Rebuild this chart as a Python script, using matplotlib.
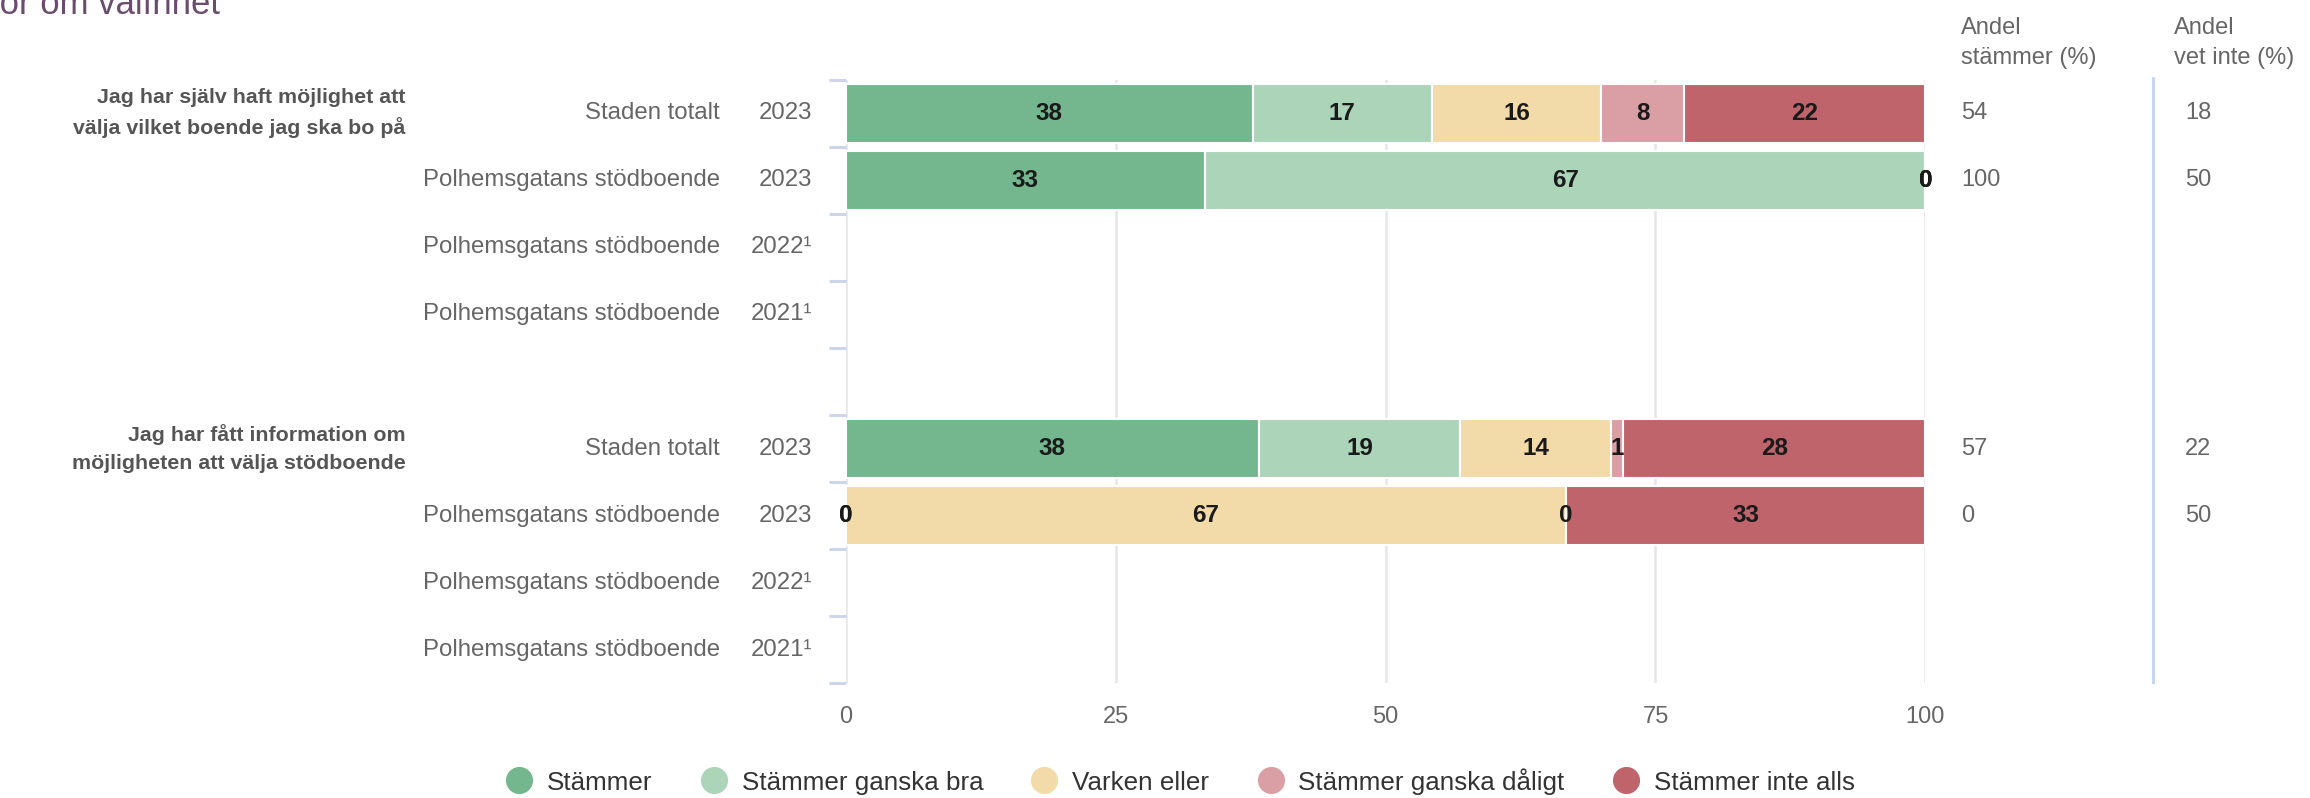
import numpy as np
import matplotlib.pyplot as plt
from matplotlib.lines import Line2D

plt.rcParams['font.family'] = ['Liberation Sans', 'DejaVu Sans']

# Data
series = ['Stämmer', 'Stämmer ganska bra', 'Varken eller', 'Stämmer ganska dåligt', 'Stämmer inte alls']
colors = ['#74b78e', '#acd4b9', '#f2dba9', '#d99fa5', '#c0646c']
questions = ['Jag har själv haft möjlighet att\nvälja vilket boende jag ska bo på',
             'Jag har fått information om\nmöjligheten att välja stödboende']
units = ['Staden totalt', 'Polhemsgatans stödboende', 'Polhemsgatans stödboende', 'Polhemsgatans stödboende']
years = ['2023', '2023', '2022¹', '2021¹']

q1_values = [[37.7, 16.6, 15.7, 7.6, 22.4],
             [33.3, 66.7, 0, 0, 0],
             None,
             None]
q2_values = [[38.3, 18.6, 14.0, 1.1, 28.0],
             [0, 0, 66.7, 0, 33.3],
             None,
             None]
andel_stammer = [['54', '100', '', ''], ['57', '0', '', '']]
andel_vet_inte = [['18', '50', '', ''], ['22', '50', '', '']]
xticks = [0, 25, 50, 75, 100]

fig = plt.figure(figsize=(23.1, 7.98), dpi=100)
ax = fig.add_axes([0.3661, 0.1436, 0.4674, 0.7565])

label_col = '#666666'
rows = []
for qi, vals in enumerate([q1_values, q2_values]):
    for ri, v in enumerate(vals):
        rows.append((qi * 5 + ri, v, qi, ri))

for pos, v, qi, ri in rows:
    if v is None:
        continue
    left = 0
    for si, w in enumerate(v):
        ax.barh(pos, w, left=left, height=0.88, color=colors[si],
                edgecolor='white', linewidth=1.5, zorder=3)
        ax.text(left + w / 2, pos, f'{w:.0f}', ha='center', va='center',
                fontsize=17.5, fontweight='bold', color='#1a1a1a', zorder=4)
        left += w

ax.set_xlim(0, 100)
ax.set_ylim(8.5, -0.5)
ax.set_xticks(xticks)
ax.set_xticklabels([str(t) for t in xticks])
ax.tick_params(axis='x', length=0, pad=16, labelsize=17, labelcolor=label_col)
ax.set_yticks(np.arange(-0.5, 9, 1))
ax.set_yticklabels([])
ax.tick_params(axis='y', length=12, width=2.2, color='#ccd6eb')
ax.grid(axis='x', color='#e6e6e6', linewidth=1.8, zorder=0)
for s in ['top', 'right', 'bottom', 'left']:
    ax.spines[s].set_visible(False)

# Row labels
for pos, v, qi, ri in rows:
    ax.text(-0.1167, pos, units[ri], transform=ax.get_yaxis_transform(),
            ha='right', va='center', fontsize=17.3, color=label_col)
    ax.annotate(years[ri], xy=(0, pos), xycoords=('axes fraction', 'data'),
                xytext=(-34, 0), textcoords='offset pixels',
                ha='right', va='center', fontsize=17.3, color=label_col)
    yfig = fig.transFigure.inverted().transform(ax.transData.transform((0, pos)))[1]
    fig.text(0.849, yfig, andel_stammer[qi][ri], ha='left', va='center',
             fontsize=17, color=label_col)
    fig.text(0.946, yfig, andel_vet_inte[qi][ri], ha='left', va='center',
             fontsize=17, color=label_col)

# Question labels
for qi, q in enumerate(questions):
    yfig = fig.transFigure.inverted().transform(ax.transData.transform((0, qi * 5)))[1]
    fig.text(0.1755, yfig, q, ha='right', va='center', fontsize=15.4,
             fontweight='bold', color='#555555', linespacing=1.6)

# Column headers
fig.text(0.849, 0.946, 'Andel\nstämmer (%)', ha='left', va='center',
         fontsize=17, color=label_col, linespacing=1.45)
fig.text(0.941, 0.946, 'Andel\nvet inte (%)', ha='left', va='center',
         fontsize=17, color=label_col, linespacing=1.45)
fig.add_artist(Line2D([0.932, 0.932], [0.145, 0.902], transform=fig.transFigure,
                      color='#c3d1ee', linewidth=2))

# Title (partially outside the canvas, as in the source)
fig.text(-72 / 2310, 1 - 14 / 798, 'Frågor om valfrihet', ha='left', va='baseline',
         fontsize=25, color='#6b4c6e')

# Legend
handles = [Line2D([], [], marker='o', linestyle='none', markersize=18.5,
                  markerfacecolor=c, markeredgecolor=c) for c in colors]
fig.legend(handles, series, loc='center', bbox_to_anchor=(0.511, 0.021), ncol=5,
           frameon=False, fontsize=18.7, handlelength=1.0, handletextpad=0.57,
           columnspacing=1.86, labelcolor='#333333')

fig.savefig('out.png', dpi=100)
plt.close()
